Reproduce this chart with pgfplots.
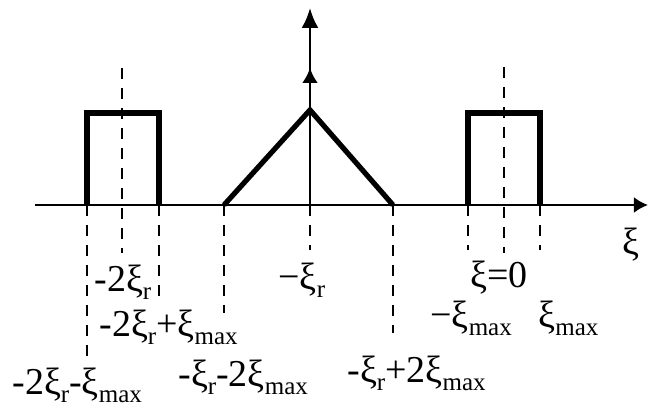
\documentclass[border=0pt]{standalone}
\usepackage{pgfplots}
\pgfplotsset{compat=1.18}
\usepackage{fontspec}
\setmainfont{Liberation Serif}
\usetikzlibrary{arrows.meta}
% lowered upright subscript
\newcommand{\lo}[1]{\raisebox{-0.45ex}{\fontsize{12.5}{12.5}\selectfont #1}}

\begin{document}
\begin{tikzpicture}
\begin{axis}[
  width=325pt, height=206pt, scale only axis,
  xmin=0, xmax=650, ymin=-207, ymax=205,
  hide axis, clip=false,
  dline/.style={black, line width=1.4pt, dash pattern=on 5.5pt off 4.5pt},
  nodes={font=\fontsize{19}{22}\selectfont, inner sep=0pt},
]
% axes
\addplot[black, line width=1.3pt, -{Latex[length=7pt,width=8pt]}] coordinates {(35,0) (648,0)};
\addplot[black, line width=1.3pt, -{Latex[length=10pt,width=8.5pt]}] coordinates {(310,0) (310,197)};
\addplot[black, line width=1.3pt, -{Latex[length=7.5pt,width=8pt]}] coordinates {(310,0) (310,137)};

% spectra
\addplot[black, line width=2.6pt, line join=miter] coordinates {(87,0) (87,92) (159,92) (159,0)};
\addplot[black, line width=2.6pt, line join=miter] coordinates {(224,0) (310,95) (393,0)};
\addplot[black, line width=2.6pt, line join=miter] coordinates {(468,0) (468,92) (540,92) (540,0)};

% dashed guides
\addplot[dline] coordinates {(122,137) (122,-48)};
\addplot[dline] coordinates {(504,138) (504,-48)};
\addplot[dline] coordinates {(87,0) (87,-158)};
\addplot[dline] coordinates {(159,0) (159,-98)};
\addplot[dline] coordinates {(224,0) (224,-108)};
\addplot[dline] coordinates {(310,0) (310,-45)};
\addplot[dline] coordinates {(393,0) (393,-128)};
\addplot[dline] coordinates {(468,0) (468,-45)};
\addplot[dline] coordinates {(540,0) (540,-45)};

% labels
\node[anchor=base west] at (axis cs:94,-87) {-2ξ\lo{r}};
\node[anchor=base west] at (axis cs:99,-132) {-2ξ\lo{r}+ξ\lo{max}};
\node[anchor=base west] at (axis cs:12,-190) {-2ξ\lo{r}-ξ\lo{max}};
\node[anchor=base west] at (axis cs:178,-182) {-ξ\lo{r}-2ξ\lo{max}};
\node[anchor=base west] at (axis cs:278,-85) {−ξ\lo{r}};
\node[anchor=base west] at (axis cs:470,-83) {ξ=0};
\node[anchor=base west] at (axis cs:430,-123) {−ξ\lo{max}};
\node[anchor=base west] at (axis cs:538,-123) {ξ\lo{max}};
\node[anchor=base west] at (axis cs:347,-178) {-ξ\lo{r}+2ξ\lo{max}};
\node[anchor=base west] at (axis cs:622,-50) {ξ};

\coordinate (LL) at (rel axis cs:0,0);
\coordinate (UR) at (rel axis cs:1,1);
\end{axis}
\pgfresetboundingbox
\useasboundingbox (LL) rectangle (UR);
\end{tikzpicture}
\end{document}
